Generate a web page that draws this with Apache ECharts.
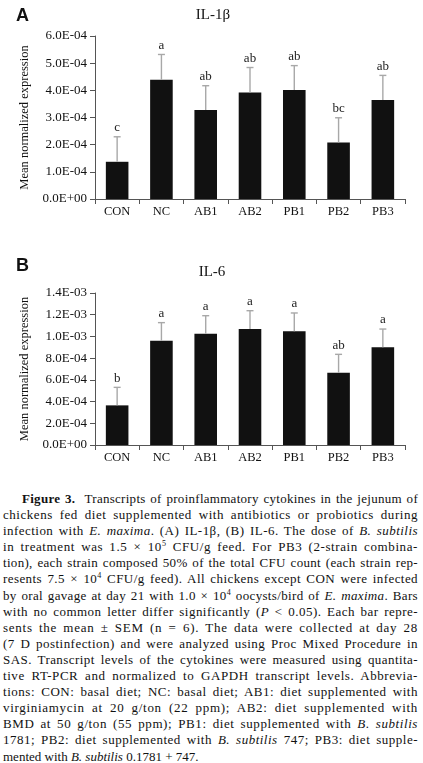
<!DOCTYPE html>
<html>
<head>
<meta charset="utf-8">
<script src="https://cdn.jsdelivr.net/npm/echarts@6/dist/echarts.min.js"></script>
<style>
  html, body { margin: 0; padding: 0; background: #fff; }
  body { width: 423px; height: 763px; position: relative; overflow: hidden; }
  #chart { position: absolute; left: 0; top: 0; width: 423px; height: 480px; }
  #caption { position: absolute; left: 3px; top: 491px; width: 415px;
    font-family: "Liberation Serif", "DejaVu Serif", serif; font-size: 13px; line-height: 16.1px; color: #111; }
  .ln { white-space: nowrap; text-align: justify; text-align-last: justify; }
  .ln.last { text-align-last: left; }
  .ln.first { padding-left: 19px; }
  sup { font-size: 8px; vertical-align: top; line-height: 8px; position: relative; top: 1px; }
</style>
</head>
<body>
<div id="chart"></div>
<div id="caption">
  <div class="ln first"><b>Figure 3.</b>&nbsp; Transcripts of proinflammatory cytokines in the jejunum of</div>
  <div class="ln">chickens fed diet supplemented with antibiotics or probiotics during</div>
  <div class="ln">infection with <i>E. maxima</i>. (A) IL-1β, (B) IL-6. The dose of <i>B. subtilis</i></div>
  <div class="ln">in treatment was 1.5 × 10<sup>5</sup> CFU/g feed. For PB3 (2-strain combina-</div>
  <div class="ln">tion), each strain composed 50% of the total CFU count (each strain rep-</div>
  <div class="ln">resents 7.5 × 10<sup>4</sup> CFU/g feed). All chickens except CON were infected</div>
  <div class="ln">by oral gavage at day 21 with 1.0 × 10<sup>4</sup> oocysts/bird of <i>E. maxima</i>. Bars</div>
  <div class="ln">with no common letter differ significantly (<i>P</i> &lt; 0.05). Each bar repre-</div>
  <div class="ln">sents the mean ± SEM (n = 6). The data were collected at day 28</div>
  <div class="ln">(7 D postinfection) and were analyzed using Proc Mixed Procedure in</div>
  <div class="ln">SAS. Transcript levels of the cytokines were measured using quantita-</div>
  <div class="ln">tive RT-PCR and normalized to GAPDH transcript levels. Abbrevia-</div>
  <div class="ln">tions: CON: basal diet; NC: basal diet; AB1: diet supplemented with</div>
  <div class="ln">virginiamycin at 20 g/ton (22 ppm); AB2: diet supplemented with</div>
  <div class="ln">BMD at 50 g/ton (55 ppm); PB1: diet supplemented with <i>B. subtilis</i></div>
  <div class="ln">1781; PB2: diet supplemented with <i>B. subtilis</i> 747; PB3: diet supple-</div>
  <div class="ln last">mented with <i>B. subtilis</i> 0.1781 + 747.</div>
</div>
<script>
// ---- data ----
var categories = ['CON', 'NC', 'AB1', 'AB2', 'PB1', 'PB2', 'PB3'];
var il1bMean = [1.37e-4, 4.39e-4, 3.28e-4, 3.92e-4, 4.01e-4, 2.08e-4, 3.64e-4];
var il1bErrTop = [2.29e-4, 5.32e-4, 4.17e-4, 4.84e-4, 4.91e-4, 2.99e-4, 4.55e-4];
var il1bLetters = ['c', 'a', 'ab', 'ab', 'ab', 'bc', 'ab'];
var il6Mean = [3.65e-4, 9.61e-4, 10.25e-4, 10.68e-4, 10.47e-4, 6.66e-4, 9.0e-4];
var il6ErrTop = [5.31e-4, 11.27e-4, 11.91e-4, 12.37e-4, 12.16e-4, 8.35e-4, 10.68e-4];
var il6Letters = ['b', 'a', 'a', 'a', 'a', 'ab', 'a'];
var ticksA = ['0.0E+00', '1.0E-04', '2.0E-04', '3.0E-04', '4.0E-04', '5.0E-04', '6.0E-04'];
var ticksB = ['0.0E+00', '2.0E-04', '4.0E-04', '6.0E-04', '8.0E-04', '1.0E-03', '1.2E-03', '1.4E-03'];

// spread caption lines partly by letter spacing (closer to the original typesetting)
(function () {
  var lines = document.querySelectorAll('#caption .ln');
  lines.forEach(function (el) {
    if (el.classList.contains('last')) return;
    var span = document.createElement('span');
    while (el.firstChild) span.appendChild(el.firstChild);
    el.appendChild(span);
    el.style.textAlign = 'left';
    el.style.textAlignLast = 'left';
    var avail = el.clientWidth - (el.classList.contains('first') ? 19 : 0);
    var w = span.getBoundingClientRect().width;
    el.style.textAlign = '';
    el.style.textAlignLast = '';
    var n = span.textContent.replace(/\s+/g, ' ').trim().length;
    var extra = avail - w;
    if (extra > 0 && n > 1) {
      el.style.letterSpacing = (0.6 * extra / n).toFixed(3) + 'px';
    }
  });
})();

var serif = '"Liberation Serif", "Times New Roman", serif';
var axisColor = '#555';

function errData(mean, top) {
  return mean.map(function (m, i) { return [i, m, top[i]]; });
}

function renderErr(params, api) {
  var x = api.value(0);
  var p0 = api.coord([x, api.value(1)]);
  var p1 = api.coord([x, api.value(2)]);
  var letter = params.seriesIndex === 1 ? il1bLetters[params.dataIndex] : il6Letters[params.dataIndex];
  var cw = 3.5;
  return {
    type: 'group',
    children: [
      { type: 'line', shape: { x1: p0[0], y1: p0[1], x2: p1[0], y2: p1[1] },
        style: { stroke: '#a8a8a8', lineWidth: 1.4 } },
      { type: 'line', shape: { x1: p1[0] - cw, y1: p1[1], x2: p1[0] + cw, y2: p1[1] },
        style: { stroke: '#a8a8a8', lineWidth: 1.4 } },
      { type: 'text', x: p1[0], y: p1[1] - 9,
        style: { text: letter, fill: '#222', font: '13px ' + serif, align: 'center', verticalAlign: 'middle' } }
    ]
  };
}

function xAxis(gi) {
  return {
    type: 'category', gridIndex: gi, data: categories,
    axisLine: { lineStyle: { color: axisColor, width: 1 } },
    axisTick: { show: true, alignWithLabel: false, length: 5, lineStyle: { color: axisColor } },
    axisLabel: { color: '#111', fontFamily: serif, fontSize: 12.5, margin: 6 }
  };
}
function yAxis(gi, max, interval, ticks) {
  return {
    type: 'value', gridIndex: gi, min: 0, max: max, interval: interval,
    name: 'Mean normalized expression', nameLocation: 'middle', nameRotate: 90, nameGap: 63,
    nameTextStyle: { color: '#111', fontFamily: serif, fontSize: 12.5 },
    axisLine: { show: true, lineStyle: { color: axisColor, width: 1 } },
    axisTick: { show: true, length: 5, lineStyle: { color: axisColor } },
    splitLine: { show: false },
    axisLabel: { color: '#111', fontFamily: serif, fontSize: 13, margin: 8,
      formatter: function (v, idx) { return ticks[idx]; } }
  };
}

var chart = echarts.init(document.getElementById('chart'), null, { renderer: 'canvas' });
chart.setOption({
  animation: false,
  grid: [
    { left: 95, top: 36, width: 310, height: 163 },
    { left: 95, top: 293, width: 310, height: 152 }
  ],
  xAxis: [xAxis(0), xAxis(1)],
  yAxis: [yAxis(0, 6e-4, 1e-4, ticksA), yAxis(1, 14e-4, 2e-4, ticksB)],
  graphic: [
    { type: 'text', left: 16, top: 7, style: { text: 'A', font: 'bold 18px "Liberation Sans", Arial, sans-serif', fill: '#111' } },
    { type: 'text', x: 213, y: 15, style: { text: 'IL-1β', font: '15px ' + serif, fill: '#111', align: 'center', verticalAlign: 'middle' } },
    { type: 'text', left: 16, top: 257, style: { text: 'B', font: 'bold 18px "Liberation Sans", Arial, sans-serif', fill: '#111' } },
    { type: 'text', x: 212, y: 272, style: { text: 'IL-6', font: '15px ' + serif, fill: '#111', align: 'center', verticalAlign: 'middle' } }
  ],
  series: [
    { type: 'bar', xAxisIndex: 0, yAxisIndex: 0, data: il1bMean, barWidth: '51%', itemStyle: { color: '#111' } },
    { type: 'custom', xAxisIndex: 0, yAxisIndex: 0, data: errData(il1bMean, il1bErrTop), renderItem: renderErr, z: 3 },
    { type: 'bar', xAxisIndex: 1, yAxisIndex: 1, data: il6Mean, barWidth: '51%', itemStyle: { color: '#111' } },
    { type: 'custom', xAxisIndex: 1, yAxisIndex: 1, data: errData(il6Mean, il6ErrTop), renderItem: renderErr, z: 3 }
  ]
});
</script>
</body>
</html>
